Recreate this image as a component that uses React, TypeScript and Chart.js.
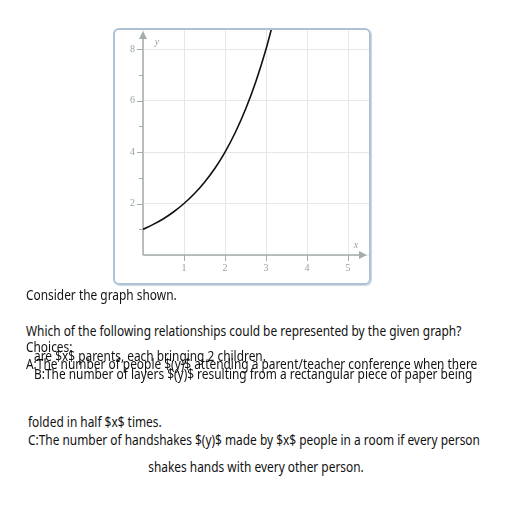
import React, { useEffect, useRef } from "react";
import { Chart, registerables } from "chart.js";

Chart.register(...registerables);

// Curve points (x, y)
const curveX = [0, 0.25, 0.5, 0.75, 1, 1.25, 1.5, 1.75, 2, 2.25, 2.5, 2.75, 3, 3.25];
const curveY = [1, 1.19, 1.41, 1.68, 2, 2.38, 2.83, 3.36, 4, 4.76, 5.66, 6.73, 8, 9.51];

const xTickValues = [1, 2, 3, 4, 5];
const xTickLabels = ["1", "2", "3", "4", "5"];
const yTickValues = [2, 4, 6, 8];
const yTickLabels = ["2", "4", "6", "8"];
const yMinorTicks = [1, 3, 5, 7];

const X_MAX = 5.51;
const Y_MAX = 8.78;

const questionLines = [
  { text: "Consider the graph shown.", left: 26, baseline: 301 },
  { text: "Which of the following relationships could be represented by the given graph?", left: 26, baseline: 337 },
  { text: "Choices:", left: 26, baseline: 353 },
  { text: "are $x$ parents, each bringing 2 children.", left: 34, baseline: 362 },
  { text: "A:The number of people $(y)$ attending a parent/teacher conference when there", left: 26, baseline: 370 },
  { text: "B:The number of layers $(y)$ resulting from a rectangular piece of paper being", left: 34, baseline: 380 },
  { text: "folded in half $x$ times.", left: 28, baseline: 428 },
  { text: "C:The number of handshakes $(y)$ made by $x$ people in a room if every person", left: 28, baseline: 446 },
];
const centeredLine = { text: "shakes hands with every other person.", center: 256, baseline: 473 };

const AXIS = "#a4acac";
const TICK_FONT = "10px 'Liberation Serif', 'DejaVu Serif', serif";

const axesPlugin = {
  id: "customAxes",
  beforeDatasetsDraw(chart: any) {
    const { ctx, scales } = chart;
    const xs = scales.x;
    const ys = scales.y;
    const x0 = xs.getPixelForValue(0);
    const y0 = ys.getPixelForValue(0);
    const xTip = chart.chartArea.right - 2;
    const yTip = chart.chartArea.top + 2;
    ctx.save();
    ctx.strokeStyle = AXIS;
    ctx.fillStyle = AXIS;
    ctx.lineWidth = 1.5;
    ctx.beginPath();
    ctx.moveTo(x0, y0);
    ctx.lineTo(x0, yTip + 6);
    ctx.stroke();
    ctx.beginPath();
    ctx.moveTo(x0, yTip);
    ctx.lineTo(x0 - 4, yTip + 8);
    ctx.lineTo(x0 + 4, yTip + 8);
    ctx.closePath();
    ctx.fill();
    ctx.beginPath();
    ctx.moveTo(x0, y0);
    ctx.lineTo(xTip - 6, y0);
    ctx.stroke();
    ctx.beginPath();
    ctx.moveTo(xTip, y0);
    ctx.lineTo(xTip - 8, y0 - 4);
    ctx.lineTo(xTip - 8, y0 + 4);
    ctx.closePath();
    ctx.fill();
    ctx.lineWidth = 1;
    yTickValues.forEach((v) => {
      const p = Math.round(ys.getPixelForValue(v)) + 0.5;
      ctx.beginPath();
      ctx.moveTo(x0 - 6, p);
      ctx.lineTo(x0, p);
      ctx.stroke();
    });
    yMinorTicks.forEach((v) => {
      const p = Math.round(ys.getPixelForValue(v)) + 0.5;
      ctx.beginPath();
      ctx.moveTo(x0 - 4, p);
      ctx.lineTo(x0, p);
      ctx.stroke();
    });
    xTickValues.forEach((v) => {
      const p = Math.round(xs.getPixelForValue(v)) + 0.5;
      ctx.beginPath();
      ctx.moveTo(p, y0);
      ctx.lineTo(p, y0 + 6);
      ctx.stroke();
    });
    ctx.font = TICK_FONT;
    ctx.fillStyle = "#9aa2a2";
    ctx.textAlign = "right";
    ctx.textBaseline = "middle";
    yTickValues.forEach((v, i) => {
      ctx.fillText(yTickLabels[i], x0 - 8, ys.getPixelForValue(v));
    });
    ctx.textAlign = "center";
    ctx.textBaseline = "middle";
    xTickValues.forEach((v, i) => {
      ctx.fillText(xTickLabels[i], xs.getPixelForValue(v), y0 + 13);
    });
    ctx.font = "italic 10px 'Liberation Serif', 'DejaVu Serif', serif";
    ctx.fillText("y", x0 + 14, yTip + 11);
    ctx.fillText("x", xTip - 11, y0 - 10);
    ctx.restore();
  },
};

function GraphChart() {
  const ref = useRef<HTMLCanvasElement | null>(null);
  useEffect(() => {
    if (!ref.current) return;
    const chart = new Chart(ref.current, {
      type: "scatter",
      data: {
        datasets: [
          {
            data: curveX.map((x, i) => ({ x, y: curveY[i] })),
            showLine: true,
            borderColor: "#111111",
            borderWidth: 1.6,
            pointRadius: 0,
            cubicInterpolationMode: "monotone",
            fill: false,
          },
        ],
      },
      options: {
        animation: false,
        responsive: true,
        maintainAspectRatio: false,
        layout: { padding: { left: 143, right: 143, top: 29, bottom: 45 } },
        plugins: { legend: { display: false }, tooltip: { enabled: false } },
        events: [],
        scales: {
          x: {
            type: "linear",
            min: 0,
            max: X_MAX,
            border: { display: false },
            grid: { color: "#e6e8e8", lineWidth: 1, drawTicks: false },
            ticks: { display: false, stepSize: 1, includeBounds: false },
          },
          y: {
            type: "linear",
            min: 0,
            max: Y_MAX,
            border: { display: false },
            grid: { color: "#e6e8e8", lineWidth: 1, drawTicks: false },
            ticks: { display: false, stepSize: 2, includeBounds: false },
          },
        },
      },
      plugins: [axesPlugin],
    } as any);
    return () => chart.destroy();
  }, []);
  return (
    <div style={{ position: "absolute", left: 0, top: 0, width: 512, height: 300 }}>
      <canvas ref={ref} />
    </div>
  );
}

const TEXT_FONT = "'Noto Sans', sans-serif";
const FONT_SIZE = 14;
const SCALE_X = 0.85;

export default function App() {
  return (
    <div style={{ position: "absolute", left: 0, top: 0, width: 512, height: 512, background: "#fff", overflow: "hidden" }}>
      <GraphChart />
      <div
        style={{
          position: "absolute",
          left: 113,
          top: 28,
          width: 258,
          height: 257,
          boxSizing: "border-box",
          border: "2px solid #aec2d6",
          borderRadius: 6,
          boxShadow: "1px 1px 1px rgba(120,140,160,0.35)",
          pointerEvents: "none",
        }}
      />
      {questionLines.map((l, i) => (
        <div
          key={i}
          style={{
            position: "absolute",
            left: l.left,
            top: l.baseline - FONT_SIZE - 1,
            fontFamily: TEXT_FONT,
            fontSize: FONT_SIZE,
            lineHeight: `${FONT_SIZE + 4}px`,
            whiteSpace: "nowrap",
            color: "#111",
            transform: `scaleX(${SCALE_X})`,
            transformOrigin: "left top",
          }}
        >
          {l.text}
        </div>
      ))}
      <div
        style={{
          position: "absolute",
          left: 0,
          width: centeredLine.center * 2,
          textAlign: "center",
          top: centeredLine.baseline - FONT_SIZE - 1,
          fontFamily: TEXT_FONT,
          fontSize: FONT_SIZE,
          lineHeight: `${FONT_SIZE + 4}px`,
          whiteSpace: "nowrap",
          color: "#111",
          transform: `scaleX(${SCALE_X})`,
          transformOrigin: "center top",
        }}
      >
        {centeredLine.text}
      </div>
    </div>
  );
}
